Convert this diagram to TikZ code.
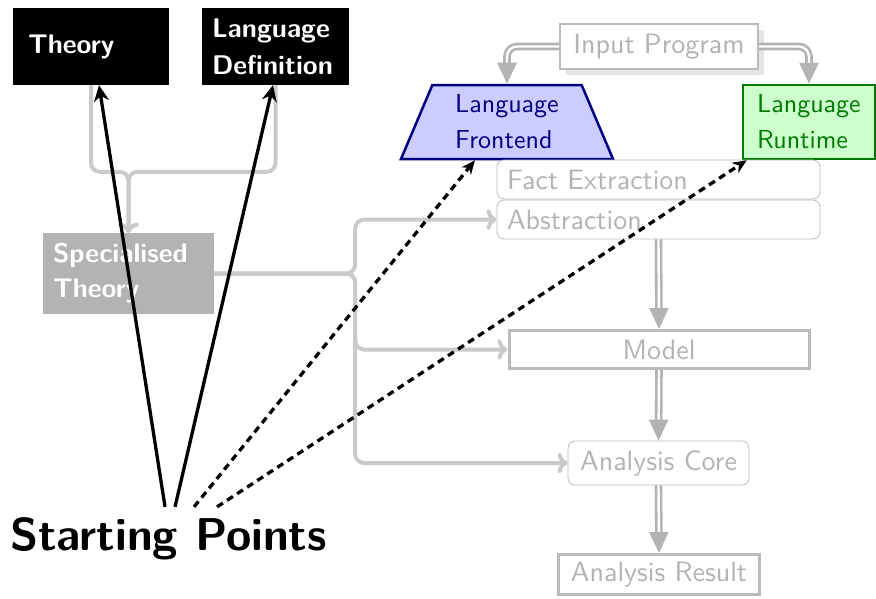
\documentclass[tikz,border=0pt]{standalone}
\usepackage{fontspec}
\setsansfont{lmsans10-regular}[Extension=.otf, BoldFont=lmsans10-bold]
\usetikzlibrary{shapes.geometric,arrows.meta,shadows,calc}
\definecolor{connc}{HTML}{CACACA}
\definecolor{dblc}{HTML}{B3B3B3}
\definecolor{gtext}{HTML}{B3B3B3}
\definecolor{gbord}{HTML}{BBBBBB}
\definecolor{specfill}{HTML}{B3B3B3}
\definecolor{fefill}{HTML}{CCCCFF}
\definecolor{feline}{HTML}{000080}
\definecolor{rtfill}{HTML}{CCFFCC}
\definecolor{rtline}{HTML}{007A00}
\tikzset{
  blackbox/.style={fill=black, text=white, align=left, inner ysep=0pt,
    minimum height=77pt, font=\sffamily\bfseries\fontsize{27}{37}\selectfont},
  graybox/.style={draw=gbord, text=gtext, fill=white, inner ysep=0pt,
    font=\sffamily\fontsize{28}{34}\selectfont},
  conn/.style={draw=connc, line width=4pt, rounded corners=9pt, -{To[length=10pt,width=20pt]}},
  dblarr/.style={draw=dblc, line width=2.6pt, double=white, double distance=2.4pt,
    rounded corners=10pt, -{Triangle[width=19pt,length=21pt]}},
  solidarr/.style={draw=black, line width=3.3pt, -{Stealth[length=16pt,width=15pt]}},
  dasharr/.style={draw=black, line width=3.3pt, dash pattern=on 7pt off 5pt,
    -{Stealth[length=14pt,width=12pt]}}
}
\begin{document}
\begin{tikzpicture}[x=1pt,y=-1pt]
\useasboundingbox (0,0) rectangle (876,598);

% black boxes
\node[blackbox, inner xsep=15pt, text width=126pt] (theory) at (91,46.5) {Theory};
\node[blackbox, inner xsep=10pt, text width=127pt] (langdef) at (275.5,46.5) {Language\\Definition};
\node[blackbox, fill=specfill, minimum height=81pt, inner xsep=10pt, text width=151pt, font=\sffamily\bfseries\fontsize{27}{35}\selectfont] (spec) at (128.5,273.5) {Specialised\\Theory};

% input program
\node[graybox, line width=2pt, minimum width=198pt, minimum height=45pt,
  drop shadow={shadow xshift=6pt, shadow yshift=-6pt, fill=black!10, opacity=1}] (inp) at (659,46.5) {Input Program};

% frontend and runtime
\node[trapezium, trapezium left angle=60, trapezium right angle=60, trapezium stretches body,
  minimum width=212pt, minimum height=74pt, inner sep=0pt, fill=fefill, draw=feline, line width=2.5pt,
  text=feline, align=left, font=\sffamily\fontsize{26}{36}\selectfont] (fe) at (507,122) {Language\\Frontend};
\node[rectangle, minimum width=132pt, minimum height=74pt, inner sep=0pt, fill=rtfill, draw=rtline, line width=2.5pt,
  text=rtline, align=left, font=\sffamily\fontsize{26}{36}\selectfont] (rt) at (809,122) {Language\\Runtime};

% pipeline
\node[graybox, rounded corners=7pt, line width=0.8pt, text width=303pt, inner xsep=10pt, minimum height=39pt, align=left] (fact) at (658.5,179.5) {Fact Extraction};
\node[graybox, rounded corners=7pt, line width=0.8pt, text width=303pt, inner xsep=10pt, minimum height=39pt, align=left] (abs) at (658.5,219.5) {Abstraction};
\node[graybox, line width=3pt, minimum width=300pt, minimum height=38pt] (model) at (659,349.5) {Model};
\node[graybox, rounded corners=7pt, line width=0.8pt, minimum width=181pt, minimum height=44pt] (core) at (658.5,463) {Analysis Core};
\node[graybox, line width=3pt, minimum width=201pt, minimum height=40pt] (res) at (659,574.5) {Analysis Result};

% starting points
\node[anchor=base west, inner sep=0pt, font=\sffamily\bfseries\fontsize{46}{54}\selectfont] (sp) at (10,550) {Starting Points};

% gray connectors
\coordinate (j) at ($(spec.north)+(0,-61)$);
\draw[conn] (theory.south) |- (j) -- (spec.north);
\draw[conn] (langdef.south) |- (j) -- (spec.north);
\coordinate (b) at ($(spec.east)+(141,0)$);
\draw[conn] (spec.east) -- (b) |- (abs.west);
\draw[conn] (spec.east) -- (b) |- (model.west);
\draw[conn] (spec.east) -- (b) |- (core.west);

% double arrows
\draw[dblarr] (inp.west) -| (fe.north);
\draw[dblarr] (inp.east) -| (rt.north);
\draw[dblarr] (abs.south) -- (model.north);
\draw[dblarr] (model.south) -- (core.north);
\draw[dblarr] (core.south) -- (res.north);

% starting point arrows
\coordinate (s1) at ([shift={(-3.5,-10)}]sp.north);
\coordinate (s2) at ([shift={(6.5,-10)}]sp.north);
\coordinate (s3) at ([shift={(25.5,-10)}]sp.north);
\coordinate (s4) at ([shift={(48.5,-10)}]sp.north);
\coordinate (tT) at ([xshift=8pt]theory.south);
\coordinate (tL) at ([xshift=-2.5pt]langdef.south);
\coordinate (tF) at ([xshift=-32pt]fe.south);
\coordinate (tR) at ([xshift=5pt]rt.south west);
\draw[solidarr] (s1) -- (tT);
\draw[solidarr] (s2) -- (tL);
\draw[dasharr] (s3) -- (tF);
\draw[dasharr] (s4) -- (tR);
\end{tikzpicture}
\end{document}
